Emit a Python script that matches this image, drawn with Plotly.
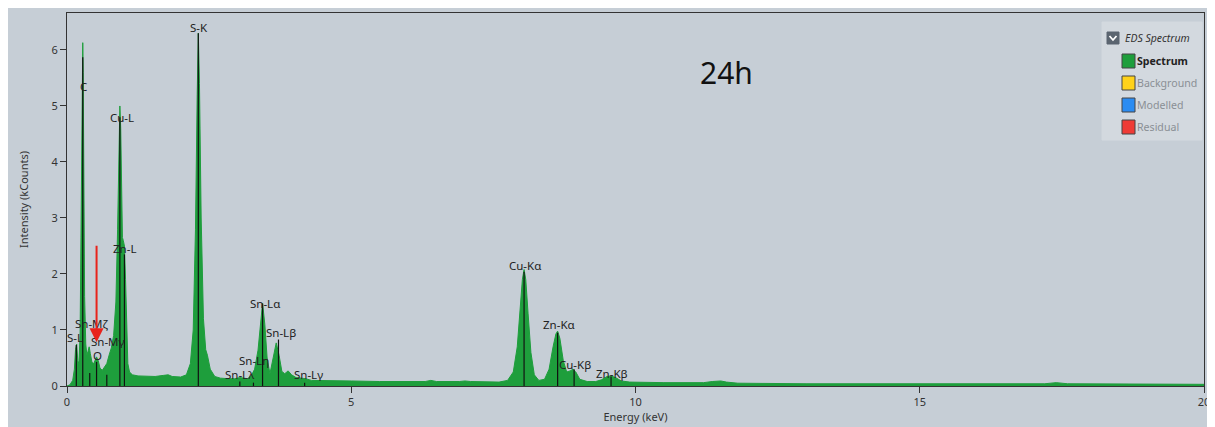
import plotly.graph_objects as go

# ---------------- data ----------------
energy_kev = [0.00, 0.05, 0.10, 0.13, 0.15, 0.17, 0.19, 0.21, 0.23, 0.245, 0.26, 0.27, 0.277, 0.285,
              0.295, 0.31, 0.33, 0.35, 0.37, 0.39, 0.41, 0.44, 0.47, 0.50, 0.52, 0.55, 0.58, 0.62,
              0.66, 0.70, 0.74, 0.78, 0.82, 0.86, 0.89, 0.91, 0.93, 0.945, 0.96, 0.975, 0.99, 1.01,
              1.03, 1.05, 1.07, 1.10, 1.15, 1.25, 1.40, 1.55, 1.70, 1.78, 1.85, 2.00, 2.10, 2.17,
              2.22, 2.26, 2.29, 2.31, 2.33, 2.36, 2.40, 2.44, 2.47, 2.52, 2.60, 2.70, 2.85, 2.95,
              3.04, 3.10, 3.18, 3.25, 3.30, 3.36, 3.40, 3.44, 3.48, 3.52, 3.57, 3.62, 3.68, 3.73,
              3.78, 3.83, 3.89, 3.95, 4.03, 4.13, 4.20, 4.30, 4.50, 4.80, 5.00, 5.50, 6.00, 6.30,
              6.40, 6.50, 6.90, 7.00, 7.10, 7.60, 7.75, 7.85, 7.92, 7.97, 8.01, 8.04, 8.07, 8.11,
              8.16, 8.22, 8.30, 8.40, 8.48, 8.55, 8.60, 8.63, 8.67, 8.73, 8.79, 8.85, 8.90, 8.95,
              9.02, 9.15, 9.30, 9.40, 9.50, 9.57, 9.65, 9.75, 9.90, 10.5, 11.2, 11.35, 11.5, 11.6,
              11.8, 13.0, 15.0, 17.2, 17.4, 17.6, 20.0]
counts_k = [0.00, 0.02, 0.10, 0.30, 0.65, 0.75, 0.45, 0.40, 0.90, 2.40, 4.60, 5.70, 6.13, 5.60,
            3.80, 1.60, 0.75, 0.55, 0.62, 0.70, 0.58, 0.42, 0.40, 0.48, 0.52, 0.45, 0.32, 0.28,
            0.33, 0.40, 0.55, 0.68, 0.90, 1.50, 2.80, 4.00, 5.00, 4.60, 3.20, 2.65, 2.60, 2.50,
            1.90, 0.90, 0.40, 0.25, 0.20, 0.18, 0.17, 0.17, 0.19, 0.20, 0.17, 0.16, 0.20, 0.40,
            1.00, 2.80, 5.20, 6.30, 5.40, 3.00, 1.20, 0.65, 0.55, 0.30, 0.17, 0.14, 0.13, 0.13,
            0.15, 0.14, 0.13, 0.20, 0.30, 0.64, 1.10, 1.48, 1.10, 0.50, 0.22, 0.45, 0.77, 0.55,
            0.26, 0.22, 0.27, 0.20, 0.15, 0.14, 0.13, 0.10, 0.10, 0.09, 0.09, 0.08, 0.08, 0.08,
            0.10, 0.08, 0.08, 0.09, 0.08, 0.07, 0.10, 0.25, 0.70, 1.40, 1.90, 2.08, 1.90, 1.30,
            0.60, 0.20, 0.10, 0.12, 0.30, 0.70, 0.93, 0.98, 0.85, 0.45, 0.25, 0.27, 0.30, 0.25,
            0.12, 0.08, 0.08, 0.11, 0.17, 0.18, 0.15, 0.09, 0.07, 0.06, 0.06, 0.08, 0.09, 0.07,
            0.05, 0.04, 0.04, 0.04, 0.06, 0.04, 0.03]

# element line markers
line_names = ["S-L", "C", "Sn-Mζ", "O", "Sn-Mγ", "Cu-L", "Zn-L", "S-K", "Sn-Lλ", "Sn-Lη",
              "Sn-Lα", "Sn-Lβ", "Sn-Lγ", "Cu-Kα", "Zn-Kα", "Cu-Kβ", "Zn-Kβ"]
line_energy = [0.164, 0.277, 0.40, 0.52, 0.70, 0.93, 1.01, 2.31, 3.04, 3.28,
               3.44, 3.72, 4.18, 8.04, 8.63, 8.92, 9.57]
line_height = [0.73, 5.87, 0.23, 0.43, 0.20, 4.80, 2.35, 6.30, 0.08, 0.06,
               1.47, 0.83, 0.06, 2.04, 0.95, 0.30, 0.17]
# label anchor (energy, kCounts) for each marker label
label_x = [0.14, 0.29, 0.44, 0.53, 0.72, 0.96, 1.01, 2.32, 3.04, 3.29,
           3.48, 3.76, 4.24, 8.06, 8.65, 8.94, 9.59]
label_y = [0.86, 5.34, 1.12, 0.54, 0.79, 4.80, 2.46, 6.41, 0.21, 0.46,
           1.48, 0.96, 0.20, 2.16, 1.09, 0.39, 0.23]

legend_items = ["Spectrum", "Background", "Modelled", "Residual"]
legend_colors = ["#1e9e3c", "#ffd21a", "#2b8cf2", "#ef3b36"]

x_ticks = [0, 5, 10, 15, 20]
y_ticks = [0, 1, 2, 3, 4, 5, 6]

# ---------------- styling / layout helpers ----------------
OFF = 8  # page body margin
W, H = 1215 - OFF, 427 - OFF
L, R, T, B = 67 - OFF, 1204 - OFF, 13 - OFF, 386 - OFF
BG = "#c6ced6"
GREEN = "#1e9e3c"
FONT = "Noto Sans"


def px(x):
    # page pixel x -> paper coordinate
    return (x - OFF - L) / (R - L)


def py(y):
    # page pixel y -> paper coordinate
    return (B - (y - OFF)) / (B - T)


fig = go.Figure()

fig.add_trace(go.Scatter(
    x=energy_kev, y=counts_k, mode="lines", fill="tozeroy",
    line=dict(color=GREEN, width=1), fillcolor=GREEN, showlegend=False, hoverinfo="skip"))

mx, my = [], []
for e, h in zip(line_energy, line_height):
    mx += [e, e, None]
    my += [0, h, None]
fig.add_trace(go.Scatter(x=mx, y=my, mode="lines", line=dict(color="#111111", width=1.2),
                         showlegend=False, hoverinfo="skip"))

annotations = []
for name, lx, ly in zip(line_names, label_x, label_y):
    annotations.append(dict(x=lx, y=ly, xref="x", yref="y", text=name, showarrow=False,
                            xanchor="center", yanchor="middle",
                            font=dict(family=FONT, size=11.5, color="#222222")))

# red arrow
annotations.append(dict(x=0.52, y=0.78, xref="x", yref="y", ax=0.52, ay=2.53, axref="x", ayref="y",
                        text="", showarrow=True, arrowhead=2, arrowsize=1.4, arrowwidth=2,
                        arrowcolor="#e8231c", standoff=0))

# 24h label
annotations.append(dict(x=px(726), y=py(72), xref="paper", yref="paper", text="24h",
                        xanchor="center", yanchor="middle",
                        showarrow=False, font=dict(family=FONT, size=30, color="#111111")))

shapes = []
# legend panel
shapes.append(dict(type="rect", xref="paper", yref="paper", x0=px(1102), x1=px(1202), y0=py(140), y1=py(22),
                   fillcolor="#d3d9df", line=dict(color="#d3d9df", width=1), layer="above"))
# chevron box
shapes.append(dict(type="rect", xref="paper", yref="paper", x0=px(1107), x1=px(1119), y0=py(44), y1=py(32),
                   fillcolor="#5b6570", line=dict(color="#5b6570", width=1), layer="above"))
shapes.append(dict(type="path", xref="paper", yref="paper",
                   path=f"M {px(1109.5)},{py(36)} L {px(1113)},{py(40)} L {px(1116.5)},{py(36)}",
                   line=dict(color="white", width=1.8), layer="above"))
annotations.append(dict(x=px(1123), y=py(38), xref="paper", yref="paper", xanchor="left",
                        yanchor="middle", text="<i>EDS Spectrum</i>", showarrow=False,
                        font=dict(family=FONT, size=10.5, color="#333333")))
for i, (name, col) in enumerate(zip(legend_items, legend_colors)):
    cy = 61 + i * 22
    shapes.append(dict(type="rect", xref="paper", yref="paper", x0=px(1122), x1=px(1135),
                       y0=py(cy + 7), y1=py(cy - 7), fillcolor=col,
                       line=dict(color="#444444", width=1), layer="above"))
    annotations.append(dict(x=px(1134.5), y=py(cy), xref="paper", yref="paper", xanchor="left",
                            yanchor="middle",
                            text=(f"<b>{name}</b>" if i == 0 else name), showarrow=False,
                            font=dict(family=FONT, size=10.6, color=("#222222" if i == 0 else "#8a8f95"))))

fig.update_layout(
    width=W, height=H,
    margin=dict(l=L, r=W - R, t=T, b=H - B, autoexpand=False),
    paper_bgcolor=BG, plot_bgcolor=BG,
    font=dict(family=FONT, size=11, color="#333333"),
    annotations=annotations, shapes=shapes,
    xaxis=dict(range=[0, 20], tickvals=x_ticks, ticks="outside", ticklen=6, tickcolor="#333333",
               showline=True, linecolor="#333333", linewidth=1, mirror=True, showgrid=False,
               zeroline=False, automargin=False,
               title=dict(text="Energy (keV)", standoff=4, font=dict(size=11)),
               tickfont=dict(size=11, color="#333333")),
    yaxis=dict(range=[0, 6.66], tickvals=y_ticks, ticks="outside", ticklen=6, tickcolor="#333333",
               showline=True, linecolor="#333333", linewidth=1, mirror=True, showgrid=False,
               zeroline=False, automargin=False,
               title=dict(text="Intensity (kCounts)", standoff=20, font=dict(size=11)),
               tickfont=dict(size=11, color="#333333")),
)

fig.write_html("out.html")
